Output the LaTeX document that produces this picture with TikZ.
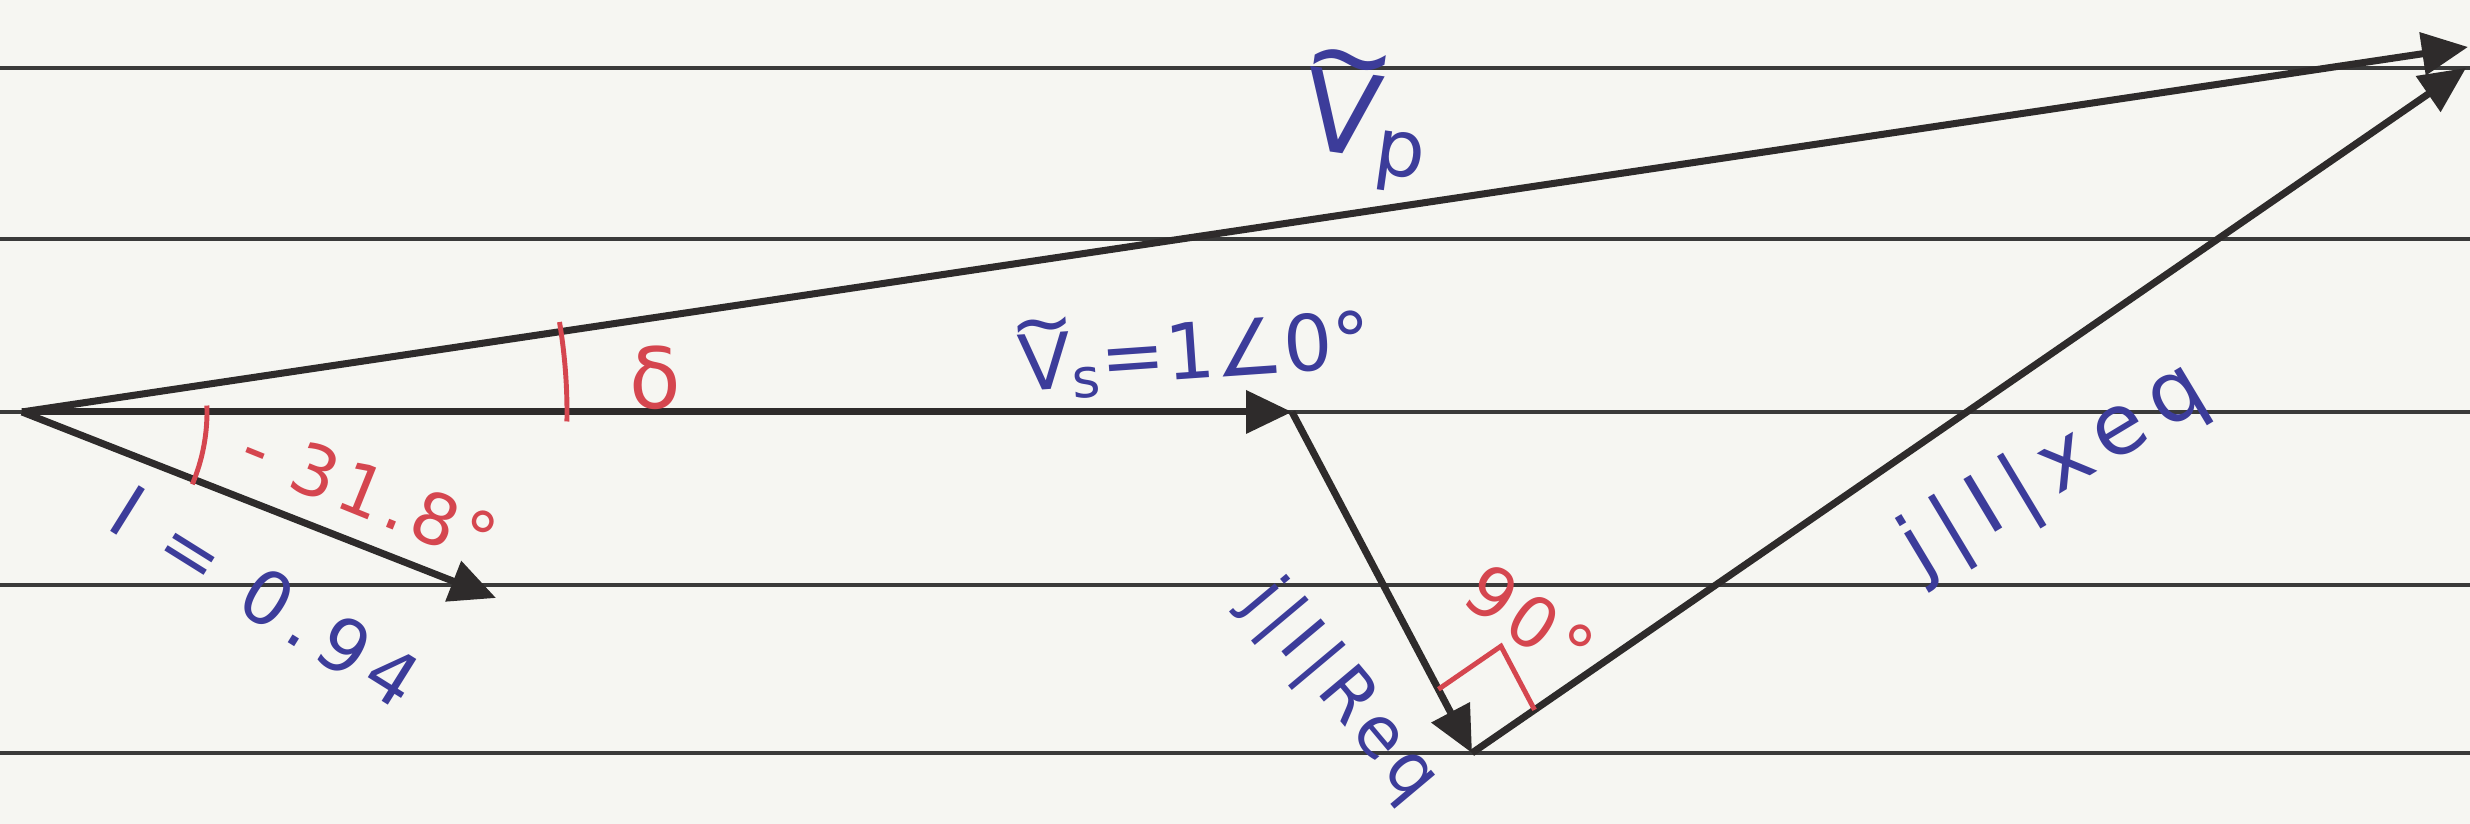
\documentclass[tikz,border=0pt]{standalone}
\usepackage{fontspec}
\setmainfont{DejaVu Sans}
\usepackage{tikz}
\usetikzlibrary{arrows.meta,calc,positioning}
\definecolor{cPaper}{HTML}{F6F6F2}
\definecolor{cRule}{HTML}{3A3A3A}
\definecolor{cVec}{HTML}{2E2B2B}
\definecolor{cBlue}{HTML}{3C3C9A}
\definecolor{cRed}{HTML}{D5464F}
\newcommand{\tV}{{\ooalign{V\cr\hidewidth\raisebox{0.52em}{\char"7E}\hidewidth\cr}}}
\tikzset{
  ruled/.style ={draw=cRule, line width=0.9pt},
  vec/.style   ={-{Triangle[length=4.6mm,width=4.2mm]}, draw=cVec, line width=2pt},
  ang/.style   ={draw=cRed, line width=1.4pt},
  ink/.style   ={text=cBlue, font=\fontsize{22}{24}\selectfont, inner sep=1pt},
  spaced/.style={font=\fontsize{21}{24}\selectfont\addfontfeature{LetterSpace=14}},
  redink/.style={text=cRed, font=\fontsize{20}{22}\selectfont\addfontfeature{LetterSpace=8}, inner sep=1pt},
}

\begin{document}
\begin{tikzpicture}
  \fill[cPaper] (0,0) rectangle (24.7,8.24);
  \useasboundingbox (0,0) rectangle (24.7,8.24);
  % ruled paper
  \foreach \y in {7.56,5.85,4.12,2.39,0.71}
    \draw[ruled] (0,\y) -- (24.7,\y);
  % phasor end points
  \coordinate (O) at (0.22,4.12);
  \coordinate (S) at (12.92,4.12);
  \coordinate (I) at (4.96,2.26);
  \coordinate (B) at (14.72,0.71);
  \coordinate (P) at (24.68,7.77);
  \coordinate (Q) at (24.66,7.56);
  \draw[vec] (O) -- (P);
  \draw[vec] (O) -- (S);
  \draw[vec] (O) -- (I);
  \draw[vec] (S) -- (B);
  \draw[vec] (B) -- (Q);
  % angle marks
  \draw[ang] (O) ++(-1:5.45) arc[start angle=-1, end angle=9.5, radius=5.45];
  \draw[ang] (O) ++(2:1.85) arc[start angle=2, end angle=-23, radius=1.85];
  \coordinate (ra) at ($(B)!0.72cm!(S)$);
  \coordinate (rb) at ($(B)!0.76cm!(Q)$);
  \draw[ang] (ra) -- ($(ra)+(rb)-(B)$) -- (rb);
  % labels
  \node[ink,rotate=-8,font=\fontsize{32}{34}\selectfont] (vp) at (13.66,6.93) {\tV\textsubscript{p}};
  \node[ink,rotate=4] (vs) at (11.95,4.68) {\tV\textsubscript{s}=1∠0°};
  \node[ink,spaced,rotate=-32] (cur) at (2.66,2.27) {I = 0.94};
  \node[ink,spaced,rotate=-50,font=\fontsize{20}{22}\selectfont\addfontfeature{LetterSpace=10}] (req) at (13.40,1.32) {j|I|Req};
  \node[ink,spaced,rotate=31,font=\fontsize{24}{26}\selectfont\addfontfeature{LetterSpace=16}] (xeq) at (20.55,3.53) {j|I|xeq};
  \node[redink,font=\fontsize{24}{26}\selectfont] (del) at (6.55,4.46) {δ};
  \node[redink,rotate=-22] (phi) at (3.70,3.31) {- 31.8°};
  \node[redink,rotate=-35] (ninety) at (15.30,2.04) {90°};
\end{tikzpicture}
\end{document}
